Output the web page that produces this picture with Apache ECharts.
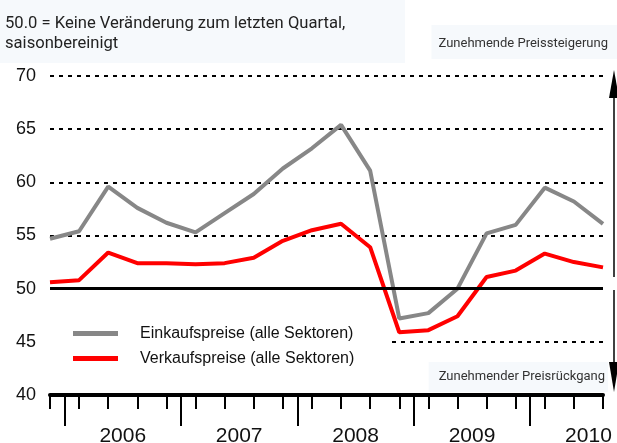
<!DOCTYPE html>
<html>
<head>
<meta charset="utf-8">
<script src="https://cdn.jsdelivr.net/npm/echarts@6/dist/echarts.min.js"></script>
<style>html,body{margin:0;padding:0;background:#fff}#c{width:617px;height:443px}</style>
</head>
<body>
<div id="c"></div>
<script>
var quarters = ['Q4 2005','Q1 2006','Q2 2006','Q3 2006','Q4 2006','Q1 2007','Q2 2007','Q3 2007','Q4 2007','Q1 2008','Q2 2008','Q3 2008','Q4 2008','Q1 2009','Q2 2009','Q3 2009','Q4 2009','Q1 2010','Q2 2010','Q3 2010'];
var einkauf = [54.7, 55.4, 59.6, 57.6, 56.2, 55.3, 57.1, 58.9, 61.3, 63.2, 65.4, 61.1, 47.2, 47.7, 50.0, 55.2, 56.0, 59.5, 58.2, 56.1];
var verkauf = [50.6, 50.8, 53.4, 52.4, 52.4, 52.3, 52.4, 52.9, 54.5, 55.5, 56.1, 53.9, 45.9, 46.1, 47.4, 51.1, 51.7, 53.3, 52.5, 52.0];
var years = ['2006','2007','2008','2009','2010'];
var yearBounds = [0.5, 4.5, 8.5, 12.5, 16.5];
var yearCenters = [2.5, 6.5, 10.5, 14.5, 18.5];
var seriesNames = ['Einkaufspreise (alle Sektoren)', 'Verkaufspreise (alle Sektoren)'];
var subtitle = '50.0 = Keine Veränderung zum letzten Quartal,\nsaisonbereinigt';
var upLabel = 'Zunehmende Preissteigerung';
var downLabel = 'Zunehmender Preisrückgang';

var narrow = '"Liberation Sans Narrow", "Liberation Sans", sans-serif';
var chart = echarts.init(document.getElementById('c'), null, {renderer: 'canvas'});
chart.setOption({
  animation: false,
  backgroundColor: '#fff',
  title: [
    {text: subtitle, left: 0, top: 0, padding: [14, 0, 9, 5], backgroundColor: '#f6f9fc',
     textStyle: {width: 400, fontSize: 16.6, lineHeight: 20, fontFamily: 'Roboto', fontWeight: 'normal', color: '#222'}},
    {text: upLabel, right: 0, top: 25, padding: [12, 9, 8, 7], backgroundColor: '#f6f9fc',
     textStyle: {fontSize: 13, lineHeight: 14, fontFamily: 'Roboto', fontWeight: 'normal', color: '#333'}},
    {text: downLabel, right: 9, top: 362, padding: [8, 3, 8, 10], backgroundColor: '#f6f9fc',
     textStyle: {fontSize: 13, lineHeight: 14, fontFamily: 'Roboto', fontWeight: 'normal', color: '#333'}}
  ],
  legend: {
    orient: 'vertical', left: 50, top: 311, padding: [14, 33, 12, 23],
    backgroundColor: '#fff', itemWidth: 45, itemHeight: 5, itemGap: 8, icon: 'rect',
    data: seriesNames,
    textStyle: {fontSize: 16, lineHeight: 17, fontFamily: narrow, color: '#111', padding: [0, 0, 0, 17]}
  },
  grid: {left: 50, right: 14, top: 76, bottom: 48, containLabel: false, outerBoundsMode: 'none'},
  xAxis: [
    {type: 'category', data: quarters, boundaryGap: false,
     axisLine: {show: true, onZero: false, lineStyle: {color: '#000', width: 4}},
     axisTick: {show: true, interval: 0, length: 14, lineStyle: {color: '#000', width: 2}},
     axisLabel: {show: false}, splitLine: {show: false}},
    {type: 'value', min: 0, max: quarters.length - 1, position: 'bottom',
     axisLine: {show: false},
     axisTick: {show: true, customValues: yearBounds, length: 31, lineStyle: {color: '#000', width: 2}},
     axisLabel: {show: true, customValues: yearCenters, margin: 31, fontSize: 21, fontFamily: narrow, color: '#111',
       formatter: function (v) { return years[Math.round((v - 2.5) / 4)]; }},
     splitLine: {show: false}}
  ],
  yAxis: {
    type: 'value', min: 40, max: 70, interval: 5,
    axisLine: {show: false}, axisTick: {show: false},
    axisLabel: {margin: 14, fontSize: 18, fontFamily: narrow, color: '#111'},
    splitLine: {show: true, lineStyle: {color: '#000', width: 2, type: [4, 5]}}
  },
  series: [
    {name: seriesNames[0], type: 'line', data: einkauf, symbol: 'none', xAxisIndex: 0,
     itemStyle: {color: '#878787'}, lineStyle: {color: '#878787', width: 4},
     markLine: {silent: true, symbol: 'none', label: {show: false},
       lineStyle: {color: '#000', width: 3, type: 'solid'}, data: [{yAxis: 50}]}},
    {name: seriesNames[1], type: 'line', data: verkauf, symbol: 'none', xAxisIndex: 0,
     itemStyle: {color: '#ff0000'}, lineStyle: {color: '#ff0000', width: 4}}
  ],
  graphic: [
    {type: 'rect', left: 268, top: 0, shape: {width: 4, height: 8}, style: {fill: '#ff2020'}},
    {type: 'line', shape: {x1: 614, y1: 96, x2: 614, y2: 277}, style: {stroke: '#000', lineWidth: 1.5}},
    {type: 'polygon', shape: {points: [[614, 70], [609, 98], [619, 98]]}, style: {fill: '#000'}},
    {type: 'line', shape: {x1: 614, y1: 290, x2: 614, y2: 364}, style: {stroke: '#000', lineWidth: 1.5}},
    {type: 'polygon', shape: {points: [[609, 362], [619, 362], [614, 392]]}, style: {fill: '#000'}}
  ]
});
</script>
</body>
</html>
